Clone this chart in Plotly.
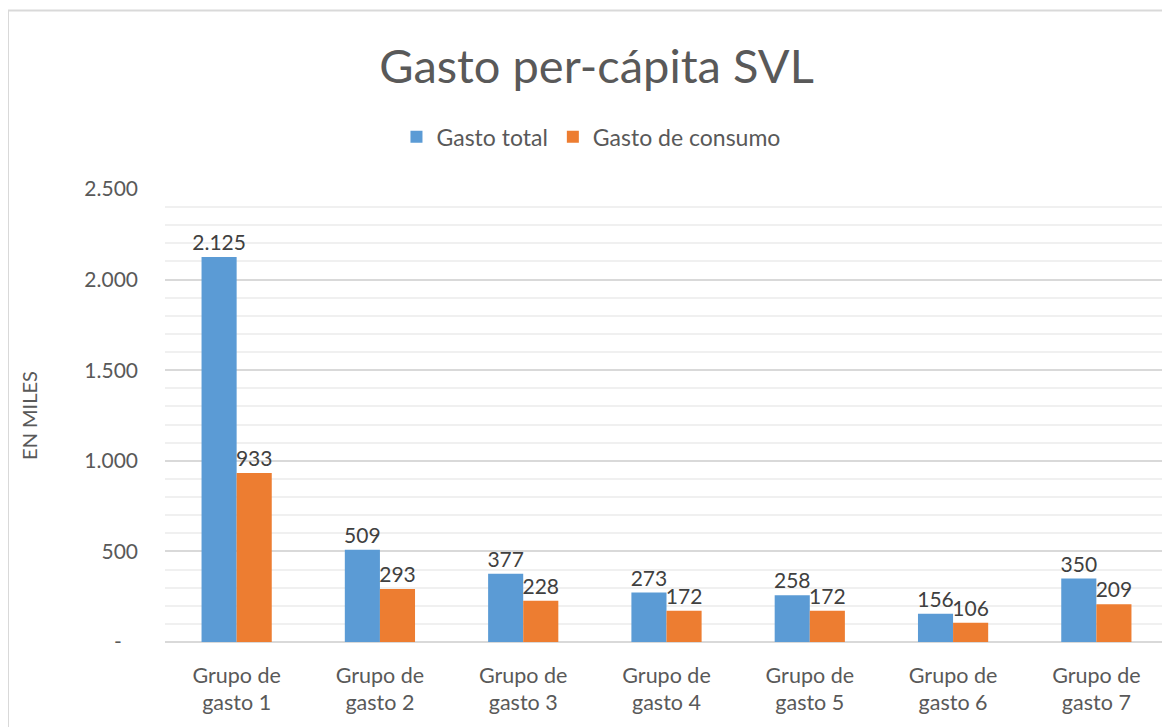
import plotly.graph_objects as go

categories = ["Grupo de<br>gasto 1", "Grupo de<br>gasto 2", "Grupo de<br>gasto 3", "Grupo de<br>gasto 4",
              "Grupo de<br>gasto 5", "Grupo de<br>gasto 6", "Grupo de<br>gasto 7"]
gasto_total = [2125, 509, 377, 273, 258, 156, 350]
gasto_consumo = [933, 293, 228, 172, 172, 106, 209]
tick_vals = [0, 500, 1000, 1500, 2000, 2500]
tick_text = ["-\u00a0\u00a0\u00a0", "500", "1.000", "1.500", "2.000", "2.500"]

FONT = "Lato"
TXT = "#595959"

# page body has an 8px default margin; layout values compensate for it
L, T, R, B = 157, 181, 10, 93
PW, PH = 1170 - L - R, 727 - T - B

fig = go.Figure()
fig.add_trace(go.Bar(name="Gasto total", x=categories, y=gasto_total,
                     marker=dict(color="#5B9BD5", line=dict(width=0)),
                     texttemplate="%{y:,.0f}", textposition="outside", cliponaxis=False,
                     constraintext="none",
                     textfont=dict(size=21, color="#404040", family=FONT)))
fig.add_trace(go.Bar(name="Gasto de consumo", x=categories, y=gasto_consumo,
                     marker=dict(color="#ED7D31", line=dict(width=0)),
                     texttemplate="%{y:,.0f}", textposition="outside", cliponaxis=False,
                     constraintext="none",
                     textfont=dict(size=21, color="#404040", family=FONT)))

fig.update_layout(
    width=1170, height=727,
    separators=",.",
    paper_bgcolor="white", plot_bgcolor="white",
    margin=dict(l=L, r=R, t=T, b=B, autoexpand=False),
    barmode="group", bargap=0.51, bargroupgap=0,
    font=dict(family=FONT, color=TXT),
    title=dict(text="Gasto per-cápita SVL", x=0.503, xanchor="center", y=0.9194, yanchor="middle",
               font=dict(size=47, color=TXT, family=FONT)),
    legend=dict(orientation="h", x=0.4247, xanchor="center", y=1.115, yanchor="middle",
                font=dict(size=23, color=TXT, family=FONT),
                traceorder="normal"),
    showlegend=True,
)
fig.update_yaxes(range=[0, 2500], tickvals=tick_vals, ticktext=tick_text, automargin=False,
                 showgrid=True, gridcolor="#d9d9d9", gridwidth=1.5,
                 minor=dict(dtick=100, showgrid=True, gridcolor="#f0f0f0", gridwidth=1.5),
                 zeroline=True, zerolinecolor="#d9d9d9", zerolinewidth=2,
                 tickfont=dict(size=21, color=TXT), ticks="", ticklabelstandoff=26,
                 title=dict(text="EN MILES", font=dict(size=20, color=TXT), standoff=41))
fig.update_xaxes(tickfont=dict(size=21.5, color=TXT), ticks="", showline=False, automargin=False,
                 ticklabelstandoff=18)

# chart border (cropped on right/bottom)
fig.add_shape(type="rect", xref="paper", yref="paper",
              x0=-L / PW, x1=1.05, y0=-0.5, y1=1 + (T - 2.5) / PH,
              line=dict(color="#d9d9d9", width=2), fillcolor="rgba(0,0,0,0)", layer="below")

fig.write_html("out.html")
